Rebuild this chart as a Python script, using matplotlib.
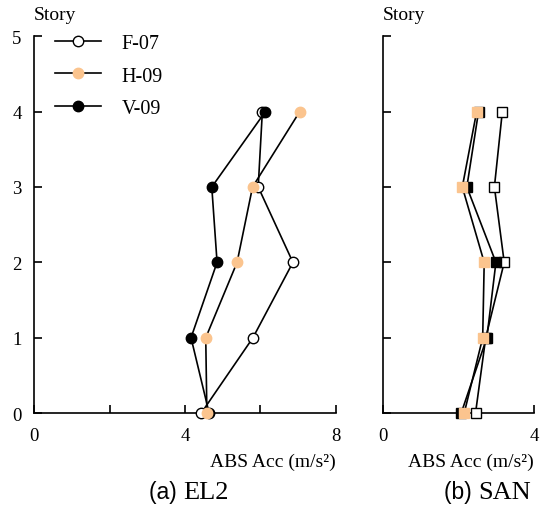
import matplotlib.pyplot as plt

stories = [0, 1, 2, 3, 4]
series = ["F-07", "H-09", "V-09"]

# EL2 record, absolute acceleration (m/s2) per story
el2_f07 = [4.43, 5.80, 6.86, 5.94, 6.05]
el2_h09 = [4.58, 4.55, 5.38, 5.79, 7.04]
el2_v09 = [4.64, 4.16, 4.85, 4.71, 6.13]

# SAN record
san_f07 = [2.45, 2.72, 3.21, 2.95, 3.16]
san_h09 = [2.15, 2.64, 2.68, 2.10, 2.48]
san_v09 = [2.07, 2.75, 2.99, 2.22, 2.53]

serif = "Liberation Serif"
sans = "Liberation Sans"
orange = "#fbc48e"

fig = plt.figure(figsize=(5.46, 5.10), dpi=100)
ax1 = fig.add_axes([0.0623, 0.188, 0.553, 0.739])
ax2 = fig.add_axes([0.7015, 0.188, 0.2766, 0.739])

def style(ax, xmax, xticks, xlabels):
    ax.set_xlim(0, xmax)
    ax.set_ylim(0, 5)
    for s in ["top", "right"]:
        ax.spines[s].set_visible(False)
    ax.spines["left"].set_linewidth(1.2)
    ax.spines["bottom"].set_linewidth(1.2)
    ax.set_xticks(xticks)
    ax.set_xticklabels(xlabels, fontfamily=serif, fontsize=13.5)
    ax.set_yticks([0, 1, 2, 3, 4, 5])
    ax.tick_params(direction="in", length=6, width=1.2, pad=9)
    ax.tick_params(axis="x", pad=10)
    ax.text(0.0, 1.035, "Story", transform=ax.transAxes, fontfamily=serif,
            fontsize=14, ha="left", va="bottom")
    ax.text(1.0, -0.105, "ABS Acc (m/s²)", transform=ax.transAxes, fontfamily=serif,
            fontsize=14, ha="right", va="top")

def draw(ax, f07, h09, v09, marker, ms):
    ax.plot(f07, stories, color="black", lw=1.2, marker=marker, ms=ms,
            mfc="white", mec="black", mew=1.0, label=series[0], zorder=3, clip_on=False)
    ax.plot(v09, stories, color="black", lw=1.2, marker=marker, ms=ms,
            mfc="black", mec="black", mew=1.0, label=series[2], zorder=4, clip_on=False)
    ax.plot(h09, stories, color="black", lw=1.2, marker=marker, ms=ms,
            mfc=orange, mec=orange, mew=1.0, label=series[1], zorder=5, clip_on=False)

draw(ax1, el2_f07, el2_h09, el2_v09, "o", 7.5)
draw(ax2, san_f07, san_h09, san_v09, "s", 7.2)

style(ax1, 8, [0, 2, 4, 6, 8], ["0", "", "4", "", "8"])
ax1.set_yticklabels(["0", "1", "2", "3", "4", "5"], fontfamily=serif, fontsize=13.5)
style(ax2, 4, [0, 4], ["0", "4"])
ax2.set_yticklabels([])

h, l = ax1.get_legend_handles_labels()
order = [0, 2, 1]
ax1.legend([h[i] for i in order], [l[i] for i in order], loc="upper left",
           bbox_to_anchor=(0.01, 1.055), frameon=False, handlelength=2.3,
           handletextpad=1.0, labelspacing=0.68, prop={"family": serif, "size": 14.5})

fig.text(0.335, 0.022, "(a) ", fontfamily=sans, fontsize=16.5, ha="right", va="baseline")
fig.text(0.335, 0.022, "EL2", fontfamily=serif, fontsize=19, ha="left", va="baseline")
fig.text(0.875, 0.022, "(b) ", fontfamily=sans, fontsize=16.5, ha="right", va="baseline")
fig.text(0.875, 0.022, "SAN", fontfamily=serif, fontsize=19, ha="left", va="baseline")

fig.savefig("out.png", dpi=100)
